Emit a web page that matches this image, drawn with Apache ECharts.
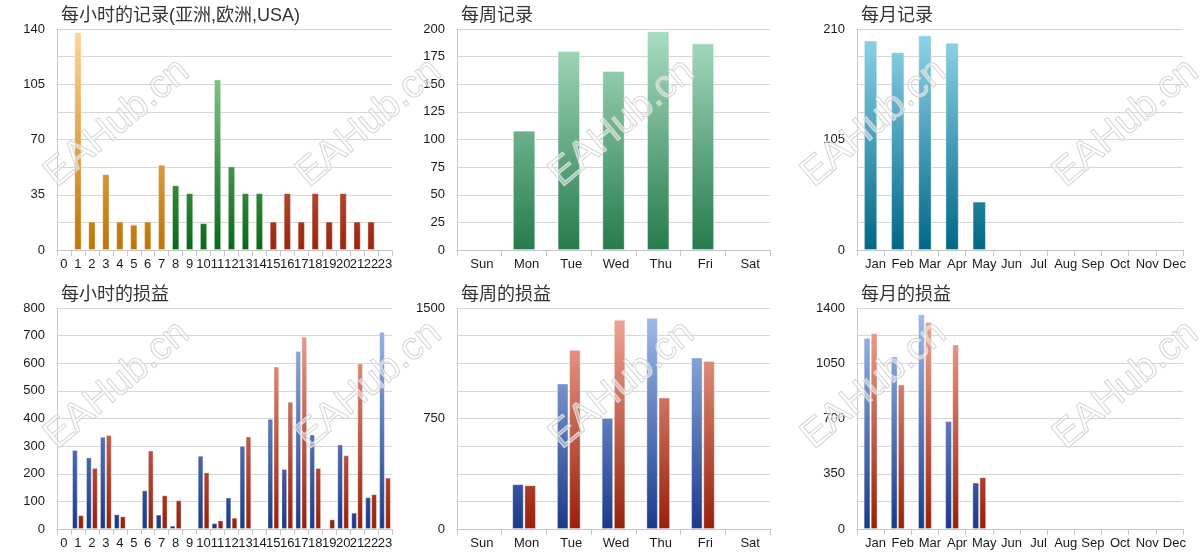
<!DOCTYPE html>
<html>
<head>
<meta charset="utf-8">
<title>记录与损益</title>
<script src="https://cdn.jsdelivr.net/npm/echarts@6/dist/echarts.min.js"></script>
<style>
  html, body { margin: 0; padding: 0; background: #fff; }
  #main { width: 1200px; height: 558px; }
</style>
</head>
<body>
<div id="main"></div>
<script>
// 数据
var hours = ['0', '1', '2', '3', '4', '5', '6', '7', '8', '9', '10', '11',
  '12', '13', '14', '15', '16', '17', '18', '19', '20', '21', '22', '23'];
var weekDays = ['Sun', 'Mon', 'Tue', 'Wed', 'Thu', 'Fri', 'Sat'];
var months = ['Jan', 'Feb', 'Mar', 'Apr', 'May', 'Jun', 'Jul', 'Aug', 'Sep', 'Oct', 'Nov', 'Dec'];

// 每小时的记录 (亚洲, 欧洲, USA)
var asiaRec = [null, 138, 18, 48, 18, 16, 18, 54, null, null, null, null,
  null, null, null, null, null, null, null, null, null, null, null, null];
var euRec = [null, null, null, null, null, null, null, null, 41, 36, 17, 108,
  53, 36, 36, null, null, null, null, null, null, null, null, null];
var usaRec = [null, null, null, null, null, null, null, null, null, null, null, null,
  null, null, null, 18, 36, 18, 36, 18, 36, 18, 18, null];

// 每小时的损益
var hourProfit = [null, 286, 259, 334, 53, null, 140, 52, 12, null, 265, 21,
  114, 301, null, 399, 217, 644, 342, null, 306, 59, 115, 714];
var hourLoss = [null, 50, 221, 340, 46, null, 284, 122, 104, null, 205, 31,
  41, 335, null, 588, 461, 696, 221, 35, 267, 599, 126, 186];

// 每周
var weekRec = [null, 108, 180, 162, 198, 187, null];
var weekProfit = [null, 304, 987, 753, 1434, 1164, null];
var weekLoss = [null, 297, 1216, 1420, 892, 1141, null];

// 每月
var monthRec = [199, 188, 204, 197, 46, null, null, null, null, null, null, null];
var monthProfit = [1211, 1093, 1360, 684, 294, null, null, null, null, null, null, null];
var monthLoss = [1241, 915, 1311, 1169, 328, null, null, null, null, null, null, null];

// y轴刻度标签
var hourRecTicks = [0, 35, 70, 105, 140];
var hourPLTicks = [0, 100, 200, 300, 400, 500, 600, 700, 800];
var weekRecTicks = [0, 25, 50, 75, 100, 125, 150, 175, 200];
var weekPLTicks = [0, 750, 1500];
var monthRecTicks = [0, 105, 210];
var monthPLTicks = [0, 350, 700, 1050, 1400];

var titles = ['每小时的记录(亚洲,欧洲,USA)', '每周记录', '每月记录', '每小时的损益', '每周的损益', '每月的损益'];

var FONT = 'Arial, "Liberation Sans", "Noto Sans CJK SC", sans-serif';

var grids = [
  { left: 57, top: 29, width: 335, height: 221 },
  { left: 457, top: 29, width: 313, height: 221 },
  { left: 857, top: 29, width: 326, height: 221 },
  { left: 57, top: 308, width: 335, height: 221 },
  { left: 457, top: 308, width: 313, height: 221 },
  { left: 857, top: 308, width: 326, height: 221 }
];

function grad(i, top, bottom) {
  var g = grids[i];
  return new echarts.graphic.LinearGradient(0, g.top, 0, g.top + g.height, [
    { offset: 0, color: top },
    { offset: 1, color: bottom }
  ], true);
}

function xAxisOf(i, cats, pad) {
  return {
    type: 'category',
    gridIndex: i,
    data: cats,
    axisLine: { lineStyle: { color: '#c8c8c8' } },
    axisTick: { show: true, length: 6, lineStyle: { color: '#c8c8c8' } },
    axisLabel: {
      interval: 0,
      color: '#1a1a1a',
      fontSize: 13,
      fontFamily: FONT,
      margin: 8,
      padding: [0, 0, 0, pad]
    }
  };
}

function yAxisOf(i, max, step, ticks) {
  return {
    type: 'value',
    gridIndex: i,
    min: 0,
    max: max,
    interval: step,
    axisLine: { show: true, lineStyle: { color: '#c8c8c8' } },
    axisTick: { show: false },
    splitLine: { lineStyle: { color: '#d6d6d6' } },
    axisLabel: {
      color: '#1a1a1a',
      fontSize: 13,
      fontFamily: FONT,
      margin: 12,
      formatter: function (v) {
        for (var k = 0; k < ticks.length; k++) {
          if (Math.abs(ticks[k] - v) < 1e-6) return ticks[k];
        }
        return '';
      }
    }
  };
}

function bar(name, i, data, top, bottom, extra) {
  var s = {
    name: name,
    type: 'bar',
    xAxisIndex: i,
    yAxisIndex: i,
    data: data,
    itemStyle: {
      color: grad(i, top, bottom),
      borderColor: 'rgba(255,255,255,0.35)',
      borderWidth: 1
    }
  };
  for (var k in extra) s[k] = extra[k];
  return s;
}

// 水印
var marks = [];
var markX = [117, 369, 622, 874, 1126];
var markY = [123, 385];
for (var r = 0; r < markY.length; r++) {
  for (var c = 0; c < markX.length; c++) {
    marks.push({
      type: 'text',
      x: markX[c],
      y: markY[r],
      rotation: Math.PI * 40 / 180,
      z: 100,
      silent: true,
      style: {
        text: 'EAHub.cn',
        fontSize: 39,
        fontFamily: 'Arial, "Liberation Sans", sans-serif',
        align: 'center',
        verticalAlign: 'middle',
        fill: 'rgba(255,255,255,0.45)',
        stroke: '#cdcdcd',
        lineWidth: 1.1
      }
    });
  }
}

var myChart = echarts.init(document.getElementById('main'));

var option = {
  animation: false,
  backgroundColor: '#fff',
  title: titles.map(function (t, i) {
    return {
      text: t,
      left: grids[i].left - 1,
      top: i < 3 ? 2 : 281,
      textStyle: { color: '#333', fontSize: 18, fontWeight: 'normal', fontFamily: FONT }
    };
  }),
  grid: grids,
  xAxis: [
    xAxisOf(0, hours, 0),
    xAxisOf(1, weekDays, 5),
    xAxisOf(2, months, 10),
    xAxisOf(3, hours, 0),
    xAxisOf(4, weekDays, 5),
    xAxisOf(5, months, 10)
  ],
  yAxis: [
    yAxisOf(0, 140, 17.5, hourRecTicks),
    yAxisOf(1, 200, 25, weekRecTicks),
    yAxisOf(2, 210, 26.25, monthRecTicks),
    yAxisOf(3, 800, 100, hourPLTicks),
    yAxisOf(4, 1500, 187.5, weekPLTicks),
    yAxisOf(5, 1400, 175, monthPLTicks)
  ],
  graphic: marks,
  series: [
    bar('亚洲', 0, asiaRec, '#fed799', '#bd7406', { stack: 'h', barWidth: '52%' }),
    bar('欧洲', 0, euRec, '#a6dca6', '#086816', { stack: 'h', barWidth: '52%' }),
    bar('USA', 0, usaRec, '#f0a090', '#9c240c', { stack: 'h', barWidth: '52%' }),

    bar('记录', 1, weekRec, '#aadec2', '#267b4c', { barWidth: '50%' }),
    bar('记录', 2, monthRec, '#92d6ea', '#006886', { barWidth: '49%' }),

    bar('盈利', 3, hourProfit, '#a4c0ec', '#1a3a8a', { barGap: '6%', barCategoryGap: '16%' }),
    bar('亏损', 3, hourLoss, '#f2ac9c', '#98200a', {}),

    bar('盈利', 4, weekProfit, '#a4c0ec', '#1a3a8a', { barGap: '6%', barCategoryGap: '47%' }),
    bar('亏损', 4, weekLoss, '#f2ac9c', '#98200a', {}),

    bar('盈利', 5, monthProfit, '#a4c0ec', '#1a3a8a', { barGap: '4%', barCategoryGap: '49%' }),
    bar('亏损', 5, monthLoss, '#f2ac9c', '#98200a', {})
  ]
};

myChart.setOption(option);
window.addEventListener('resize', function () {
  myChart.resize();
});
</script>
</body>
</html>
